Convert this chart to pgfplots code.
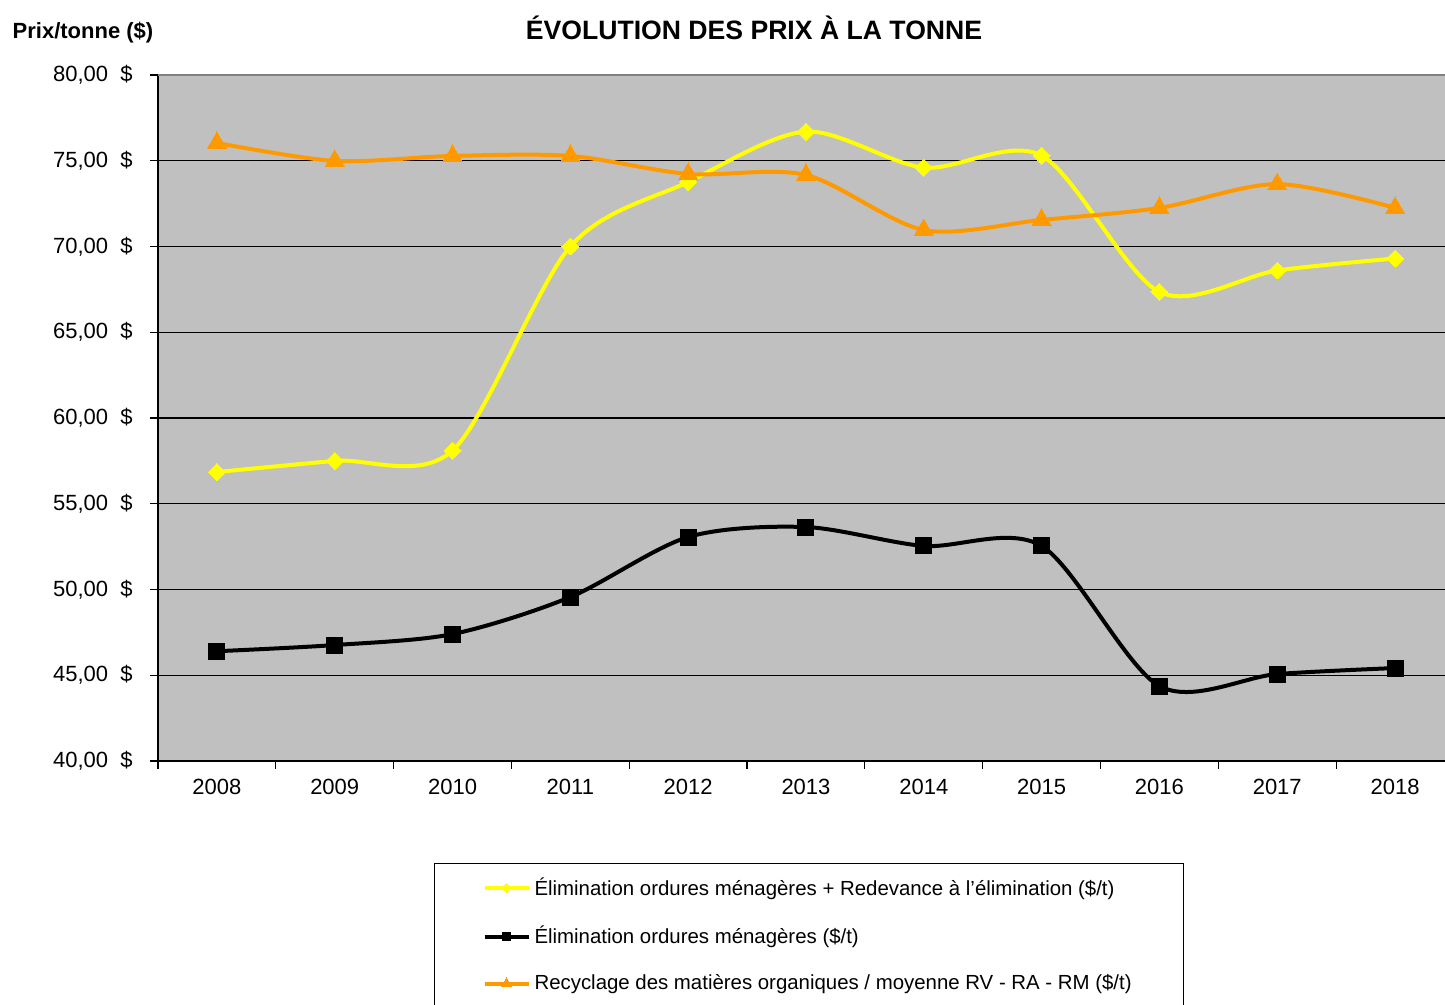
\documentclass[border=0pt]{standalone}
\usepackage{pgfplots}
\pgfplotsset{compat=1.18}
\usepackage{fontspec}
\setmainfont{Liberation Sans}
\definecolor{bgray}{HTML}{C0C0C0}
\definecolor{xyellow}{HTML}{FFFF00}
\definecolor{xorange}{HTML}{FF9900}
\begin{document}
\begin{tikzpicture}
\begin{axis}[
  at={(79pt,122pt)}, anchor=south west,
  scale only axis, width=643.5pt, height=343pt,
  xmin=-0.5, xmax=10.424, ymin=40, ymax=80,
  axis background/.style={fill=bgray},
  axis lines*=left,
  axis line style={black, line width=1pt},
  x axis line style={-}, y axis line style={-},
  xtick={0,...,10},
  xticklabels={2008,2009,2010,2011,2012,2013,2014,2015,2016,2017,2018},
  minor xtick={-0.5,0.5,...,9.5},
  major x tick style={draw=none},
  minor tick length=4pt, major tick length=4pt,
  tick align=outside,
  tick style={black, line width=0.6pt},
  ytick={40,45,...,80},
  ymajorgrids, grid style={black, line width=0.6pt},
  yticklabel={\pgfmathprintnumber[fixed,fixed zerofill,precision=2,use comma]{\tick}\ \ \$},
  /pgf/number format/assume math mode=true,
  ticklabel style={font=\fontsize{11}{13}\selectfont},
  yticklabel style={inner sep=0pt, xshift=-8.5pt},
  xticklabel style={inner sep=0pt, yshift=-5pt},
  legend style={at={(axis description cs:0.2145,-0.1487)}, anchor=north west,
    draw=black, line width=0.5pt, fill=white,
    font=\fontsize{10.2}{12}\selectfont,
    inner xsep=24pt, inner ysep=5pt, row sep=10pt},
  legend cell align=left,
  legend image code/.code={\draw[mark repeat=2,mark phase=2, every mark/.append style={scale=0.55}] plot coordinates {(0pt,0pt)(11pt,0pt)(22pt,0pt)};},
]
\addplot[xyellow, line width=2pt, smooth, mark=square*, mark size=3pt, mark options={rotate=45, fill=xyellow, draw=xyellow, line width=0pt}]
  coordinates {(0,56.85)(1,57.5)(2,58.1)(3,70.0)(4,73.76)(5,76.7)(6,74.6)(7,75.3)(8,67.35)(9,68.6)(10,69.3)};
\addlegendentry{Élimination ordures ménagères + Redevance à l'élimination (\$/t)}
\addplot[black, line width=2pt, smooth, mark=square*, mark size=4pt, mark options={fill=black, line width=0pt}]
  coordinates {(0,46.4)(1,46.76)(2,47.4)(3,49.56)(4,53.06)(5,53.64)(6,52.54)(7,52.54)(8,44.37)(9,45.07)(10,45.42)};
\addlegendentry{Élimination ordures ménagères (\$/t)}
\addplot[xorange, line width=2pt, smooth, mark=triangle*, mark size=5.5pt, mark options={fill=xorange, draw=xorange, line width=0pt}]
  coordinates {(0,76.04)(1,74.99)(2,75.28)(3,75.28)(4,74.23)(5,74.17)(6,70.96)(7,71.55)(8,72.25)(9,73.64)(10,72.25)};
\addlegendentry{Recyclage des matières organiques / moyenne RV - RA - RM (\$/t)}
\draw[gray, line width=1pt] (rel axis cs:0,1) -- (rel axis cs:1,1);
\end{axis}
\node[font=\bfseries\fontsize{13.3}{15}\selectfont] at (377pt,488.5pt) {ÉVOLUTION DES PRIX À LA TONNE};
\node[font=\bfseries\fontsize{11}{13}\selectfont] at (41.5pt,486pt) {Prix/tonne (\$)};
\pgfresetboundingbox
\path (0,0) rectangle (722.5pt,502.5pt);
\end{tikzpicture}
\end{document}
